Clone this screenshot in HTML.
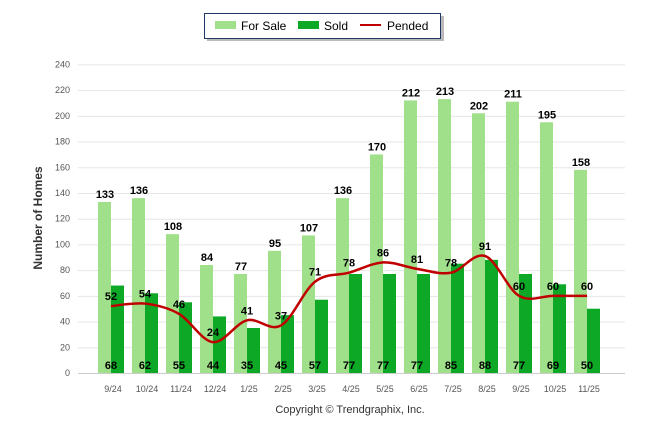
<!DOCTYPE html>
<html><head><meta charset="utf-8"><style>
html,body{margin:0;padding:0;background:#fff;}
svg text{font-family:"Liberation Sans",Arial,sans-serif;}
</style></head><body>
<svg id="chart" width="646" height="434" xmlns="http://www.w3.org/2000/svg">
<g id="legend">
<rect x="207" y="16" width="237" height="25" fill="#bbb"/>
<rect x="204.5" y="13.5" width="236" height="25" fill="#fff" stroke="#1f3864" stroke-width="1"/>
<rect x="215" y="21" width="21" height="8" fill="#a0e08a"/>
<text x="241" y="30" font-size="12" fill="#000">For Sale</text>
<rect x="298" y="21" width="21" height="8" fill="#0ca826"/>
<text x="324" y="30" font-size="12" fill="#000">Sold</text>
<rect x="360" y="24" width="21" height="2" fill="#c00000"/>
<text x="387" y="30" font-size="12" fill="#000">Pended</text>
</g>
<g id="grid"></g>
<g id="bars"></g>
<g id="line"></g>
<g id="labels"></g>
<text transform="translate(42,218) rotate(-90)" text-anchor="middle" font-size="12" font-weight="bold" fill="#333">Number of Homes</text>
<text x="350" y="413" text-anchor="middle" font-size="11" fill="#333">Copyright © Trendgraphix, Inc.</text>
</svg>
<script>
const categories=["9/24","10/24","11/24","12/24","1/25","2/25","3/25","4/25","5/25","6/25","7/25","8/25","9/25","10/25","11/25"];
const forSale=[133,136,108,84,77,95,107,136,170,212,213,202,211,195,158];
const sold=[68,62,55,44,35,45,57,77,77,77,85,88,77,69,50];
const pended=[52,54,46,24,41,37,71,78,86,81,78,91,60,60,60];
const yTicks=[0,20,40,60,80,100,120,140,160,180,200,220,240];
const NS="http://www.w3.org/2000/svg";
const y0=373,yScale=308.6/240;
const yPos=v=>y0-v*yScale;
const xPos=i=>111+34*i;
function mk(tag,attrs,parent,txt){const e=document.createElementNS(NS,tag);for(const k in attrs)e.setAttribute(k,attrs[k]);if(txt!==undefined)e.textContent=txt;document.getElementById(parent).appendChild(e);return e;}
yTicks.forEach(t=>{
 const l=mk('line',{x1:78,x2:625,y1:yPos(t)+0.5,y2:yPos(t)+0.5,stroke:t===0?'#ccc':'#e6e6e6','stroke-width':1},'grid');
 
 
 const tx=mk('text',{x:70,y:yPos(t)+3,'text-anchor':'end','font-size':9,fill:'#555'},'grid',t);
 
 
});
categories.forEach((c,i)=>{
 const cx=xPos(i);
 const a=mk('rect',{x:cx-13,y:yPos(forSale[i]),width:13,height:forSale[i]*yScale,fill:'#a0e08a'},'bars');
 
 
 const b=mk('rect',{x:cx,y:yPos(sold[i]),width:13,height:sold[i]*yScale,fill:'#0ca826'},'bars');
 
 
 const t=mk('text',{x:cx+2,y:392,'text-anchor':'middle','font-size':9,fill:'#555'},'grid',c);
 
 
 const l1=mk('text',{x:cx-6,y:yPos(forSale[i])-4,'text-anchor':'middle','font-size':11,'font-weight':'bold',fill:'#000'},'labels',forSale[i]);
 
 
 const l2=mk('text',{x:cx,y:369,'text-anchor':'middle','font-size':11,'font-weight':'bold',fill:'#000'},'labels',sold[i]);
 
 
 const l3=mk('text',{x:cx,y:yPos(pended[i])-6,'text-anchor':'middle','font-size':11,'font-weight':'bold',fill:'#000'},'labels',pended[i]);
 
 
});
const pts=pended.map((v,i)=>[xPos(i),yPos(v)]);
let d='M'+pts[0][0]+','+pts[0][1];
for(let i=0;i<pts.length-1;i++){
 const p0=pts[Math.max(0,i-1)],p1=pts[i],p2=pts[i+1],p3=pts[Math.min(pts.length-1,i+2)];
 const c1=[p1[0]+(p2[0]-p0[0])/6,p1[1]+(p2[1]-p0[1])/6];
 const c2=[p2[0]-(p3[0]-p1[0])/6,p2[1]-(p3[1]-p1[1])/6];
 d+=` C${c1[0]},${c1[1]} ${c2[0]},${c2[1]} ${p2[0]},${p2[1]}`;
}
const path=mk('path',{d:d,fill:'none',stroke:'#c00000','stroke-width':2.5},'line');


</script>
</body></html>
